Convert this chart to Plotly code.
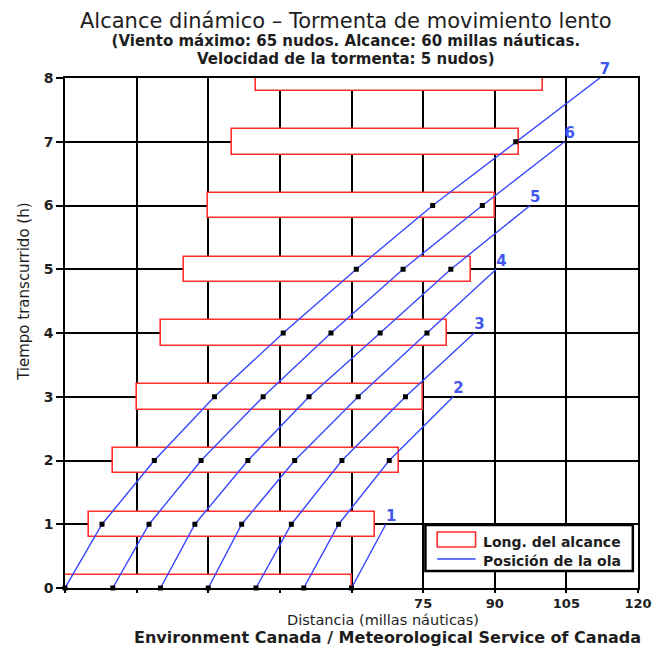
import plotly.graph_objects as go

# ---------------- data ----------------
hours = [0, 1, 2, 3, 4, 5, 6, 7, 8]
fetch_start = [0, 5, 10, 15, 20, 25, 30, 35, 40]      # nm
fetch_end = [60, 65, 70, 75, 80, 85, 90, 95, 100]     # nm

wave1_x = [60, 67.2]
wave2_x = [50, 57.3, 67.9, 81.3]
wave3_x = [40, 47.4, 58.0, 71.3, 85.7]
wave4_x = [30, 37.0, 48.1, 61.4, 75.8, 90.3]
wave5_x = [20, 27.2, 38.3, 51.1, 66.0, 80.8, 97.4]
wave6_x = [10, 17.6, 28.5, 41.5, 55.7, 70.8, 87.4, 104.6]
wave7_x = [0, 7.75, 18.7, 31.3, 45.7, 61.0, 77.0, 94.4, 112.0]
wave_labels = ["1", "2", "3", "4", "5", "6", "7"]

x_tickvals = [0, 15, 30, 45, 60, 75, 90, 105, 120]
x_ticktext = ["", "", "", "", "", "75", "90", "105", "120"]
y_tickvals = [0, 1, 2, 3, 4, 5, 6, 7, 8]

# ---------------- styles ----------------
FONT = "DejaVu Sans, Liberation Sans, Arial, sans-serif"
RED = "#ff2e2e"
BLUE = "#3a46ff"
LABEL_BLUE = "#4257f0"
TXT = "#1e1e1e"

waves = [wave1_x, wave2_x, wave3_x, wave4_x, wave5_x, wave6_x, wave7_x]

fig = go.Figure()

# fetch rectangles (Long. del alcance)
fig.add_trace(go.Bar(
    orientation="h",
    y=hours,
    x=[e - s for s, e in zip(fetch_start, fetch_end)],
    base=fetch_start,
    width=0.4,
    marker=dict(color="white", line=dict(color=RED, width=1.6)),
    cliponaxis=False,
    showlegend=False,
    name="Long. del alcance",
))

# wave position lines
dot_x, dot_y = [], []
end_x, end_y = [], []
for wx in waves:
    t = hours[:len(wx)]
    fig.add_trace(go.Scatter(
        x=wx, y=t, mode="lines",
        line=dict(color=BLUE, width=1.4),
        showlegend=False, name="Posición de la ola",
    ))
    dot_x += wx[:-1]
    dot_y += t[:-1]
    end_x.append(wx[-1])
    end_y.append(t[-1])

fig.add_trace(go.Scatter(
    x=dot_x, y=dot_y, mode="markers",
    marker=dict(symbol="square", size=5, color="black"),
    cliponaxis=False, showlegend=False, hoverinfo="skip",
))

fig.add_trace(go.Scatter(
    x=end_x, y=end_y, mode="text", text=wave_labels,
    textposition="top right",
    textfont=dict(family=FONT, size=15, color=LABEL_BLUE, weight="bold"),
    cliponaxis=False, showlegend=False, hoverinfo="skip",
))

axis_common = dict(
    showline=True, linecolor="black", linewidth=1.5, mirror=True,
    showgrid=True, gridcolor="black", gridwidth=1.5,
    zeroline=False, ticks="outside", tickcolor="black", tickwidth=1.5,
    layer="below traces", ticklabeloverflow="allow",
)

fig.update_xaxes(range=[0, 120], tickmode="array", tickvals=x_tickvals,
                 ticktext=x_ticktext, ticklen=3,
                 tickfont=dict(family=FONT, size=13, color=TXT, weight="bold"),
                 **axis_common)
fig.update_yaxes(range=[0, 8], tickmode="array", tickvals=y_tickvals,
                 ticklen=7,
                 tickfont=dict(family=FONT, size=14, color=TXT, weight="bold"),
                 **axis_common)

title_text = (
    '<span style="font-size:21px">Alcance dinámico – Tormenta de movimiento lento</span>'
    '<br><b><span style="font-size:15px">(Viento máximo: 65 nudos. Alcance: 60 millas náuticas.</span></b>'
    '<br><b><span style="font-size:15px">Velocidad de la tormenta: 5 nudos)</span></b>'
)

annotations = [
    dict(text=title_text, x=0.49, y=1.0, yanchor="bottom", yshift=8,
         font=dict(size=14)),
    dict(text="Distancia (millas náuticas)", x=0.555, y=-0.0618,
         font=dict(size=14.5)),
    dict(text="Environment Canada / Meteorological Service of Canada",
         x=0.562, y=-0.0961, font=dict(size=16, weight="bold")),
    dict(text="Tiempo transcurrido (h)", x=-0.0704, y=0.58, textangle=-90,
         font=dict(size=15)),
    dict(text="Long. del alcance", x=0.7268, y=0.0908, xanchor="left",
         font=dict(size=14, weight="bold")),
    dict(text="Posición de la ola", x=0.7268, y=0.0529, xanchor="left",
         font=dict(size=14, weight="bold")),
]
for a in annotations:
    a.setdefault("xanchor", "center")
    a.setdefault("yanchor", "middle")
    a.update(xref="paper", yref="paper", showarrow=False)
    f = a["font"]
    f.setdefault("family", FONT)
    f.setdefault("color", TXT)

shapes = [
    dict(type="rect", xref="paper", yref="paper", x0=0.629, x1=0.991,
         y0=0.0333, y1=0.1235, fillcolor="white",
         line=dict(color="black", width=2.5)),
    dict(type="rect", xref="paper", yref="paper", x0=0.6495, x1=0.7165,
         y0=0.0804, y1=0.1098, fillcolor="white",
         line=dict(color=RED, width=1.6)),
    dict(type="line", xref="paper", yref="paper", x0=0.6495, x1=0.7165,
         y0=0.0569, y1=0.0569, line=dict(color=BLUE, width=1.4)),
]

fig.update_layout(
    width=664, height=646,
    margin=dict(l=65, r=17, t=78, b=58),
    paper_bgcolor="white", plot_bgcolor="white",
    font=dict(family=FONT, color=TXT),
    showlegend=False,
    bargap=0,
    annotations=annotations,
    shapes=shapes,
)

fig.write_html("out.html")
